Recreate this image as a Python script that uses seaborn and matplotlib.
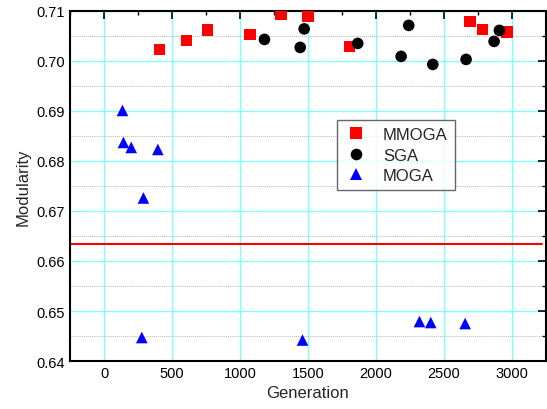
import numpy as np
import pandas as pd
import matplotlib
matplotlib.use('Agg')
import matplotlib.pyplot as plt
import seaborn as sns
from matplotlib.ticker import MultipleLocator, FormatStrFormatter

# values
mmoga_gen = [408, 607, 761, 1075, 1303, 1502, 1805, 2693, 2783, 2965]
mmoga_mod = [0.7023, 0.7041, 0.7062, 0.7053, 0.7094, 0.7089, 0.7029, 0.7079, 0.7063, 0.7058]

sga_gen = [1180, 1443, 1472, 1866, 2185, 2241, 2418, 2663, 2869, 2908]
sga_mod = [0.7043, 0.7027, 0.7064, 0.7035, 0.7009, 0.7071, 0.6993, 0.7003, 0.7039, 0.7061]

moga_gen = [136, 143, 200, 290, 396, 278, 1460, 2320, 2403, 2656]
moga_mod = [0.6901, 0.6837, 0.6827, 0.6726, 0.6823, 0.6447, 0.6442, 0.6479, 0.6477, 0.6475]

ref_gen = [-250, 3220]
ref_mod = [0.6634, 0.6634]

df = pd.DataFrame({
    'Generation': mmoga_gen + sga_gen + moga_gen,
    'Modularity': mmoga_mod + sga_mod + moga_mod,
    'method': ['MMOGA'] * len(mmoga_gen) + ['SGA'] * len(sga_gen) + ['MOGA'] * len(moga_gen),
})

sns.set_style('white')
plt.rcParams['font.family'] = ['Liberation Sans', 'DejaVu Sans']

fig = plt.figure(figsize=(5.47, 4.10), dpi=100)
ax = fig.add_axes([0.128, 0.117, 0.870, 0.854])

sns.scatterplot(data=df, x='Generation', y='Modularity', hue='method', style='method',
                palette={'MMOGA': '#ff0000', 'SGA': '#000000', 'MOGA': '#0000ff'},
                markers={'MMOGA': 's', 'SGA': 'o', 'MOGA': '^'},
                s=70, linewidth=0, ax=ax, zorder=3)
ax.plot(ref_gen, ref_mod, color='#ff0000', lw=1.5, zorder=2)

ax.set_xlim(-250, 3250)
ax.set_ylim(0.64, 0.71)
ax.xaxis.set_major_locator(MultipleLocator(500))
ax.xaxis.set_minor_locator(MultipleLocator(250))
ax.yaxis.set_major_locator(MultipleLocator(0.01))
ax.yaxis.set_minor_locator(MultipleLocator(0.005))
ax.yaxis.set_major_formatter(FormatStrFormatter('%.2f'))

ax.grid(which='major', color='#80ffff', lw=1.0, zorder=0)
ax.grid(which='minor', axis='y', color='#b8b8b8', lw=0.7, ls=(0, (1, 1)), zorder=0)
ax.set_axisbelow(True)

ax.tick_params(which='both', direction='in', top=True, right=True, labelsize=10.5, colors='black')
ax.tick_params(which='major', length=6, width=1.2)
ax.tick_params(which='minor', length=3, width=1.0)
for sp in ax.spines.values():
    sp.set_color('black')
    sp.set_linewidth(1.5)

ax.set_xlabel('Generation', fontsize=12)
ax.set_ylabel('Modularity', fontsize=12)

leg = ax.legend(loc='upper left', bbox_to_anchor=(0.561, 0.689), fontsize=12,
                frameon=True, fancybox=False, edgecolor='#404040', borderpad=0.45,
                borderaxespad=0, handlelength=1.4, handletextpad=0.9,
                labelspacing=0.32, markerscale=1.0)
leg.get_frame().set_linewidth(1.0)

fig.savefig('out.png', dpi=100)
